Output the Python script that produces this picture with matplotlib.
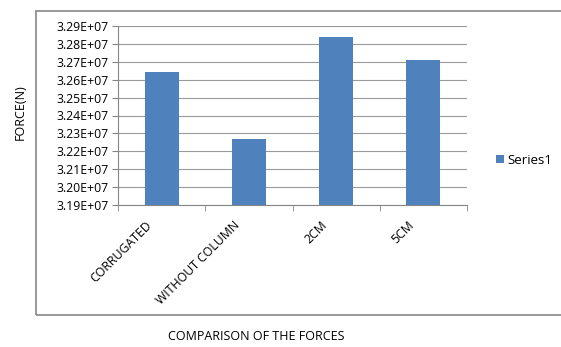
import numpy as np
import matplotlib.pyplot as plt
from matplotlib.patches import Rectangle
from matplotlib.transforms import ScaledTranslation

categories = ["CORRUGATED", "WITHOUT COLUMN", "2CM", "5CM"]
forces = [3.2641e7, 3.2267e7, 3.2837e7, 3.2708e7]
yticks = [3.19e7, 3.20e7, 3.21e7, 3.22e7, 3.23e7, 3.24e7, 3.25e7, 3.26e7, 3.27e7, 3.28e7, 3.29e7]

plt.rcParams['font.family'] = ['Open Sans', 'DejaVu Sans']

fig = plt.figure(figsize=(5.61, 3.47), dpi=100)
W, H = 561, 347
ax = fig.add_axes([118 / W, 1 - 205 / H, (467 - 118) / W, (205 - 26) / H])

x = np.arange(len(categories))
ax.bar(x, forces, width=0.39, color="#4F81BD", label="Series1", zorder=3)
ax.set_xlim(-0.5, len(categories) - 0.5)
ax.set_ylim(yticks[0], yticks[-1])
ax.set_yticks(yticks)
ax.set_yticklabels(["%.2fE+07" % (v / 1e7) for v in yticks], fontsize=8.8)
ax.set_xticks(x)
ax.set_xticklabels(categories, rotation=45, ha="right", rotation_mode="anchor", fontsize=8.8)
ax.tick_params(axis="x", length=0, pad=10)
# shift category labels a bit left like the original
shift = ScaledTranslation(-16 / 100, 0, fig.dpi_scale_trans)
for lab in ax.get_xticklabels():
    lab.set_transform(lab.get_transform() + shift)
ax.set_xticks(np.arange(len(categories) + 1) - 0.5, minor=True)
ax.tick_params(axis="x", which="minor", length=4, color="#868686")
ax.tick_params(axis="y", length=4, color="#868686", pad=3)
ax.grid(axis="y", color="#9a9a9a", linewidth=0.8, zorder=0)
for s in ["top", "right"]:
    ax.spines[s].set_visible(False)
for s in ["left", "bottom"]:
    ax.spines[s].set_color("#868686")

fig.text(20 / W, 1 - 112 / H, "FORCE(N)", rotation=90, ha="center", va="center", fontsize=9)
fig.text(256 / W, 1 - 337 / H, "COMPARISON OF THE FORCES", ha="center", va="center", fontsize=9)

ax.legend(loc="center left", bbox_to_anchor=(484 / W, 1 - 160 / H), bbox_transform=fig.transFigure,
          frameon=False, fontsize=9.5, handlelength=0.6, handleheight=0.6, handletextpad=0.3)

fig.patches.append(Rectangle((36 / W, 1 - 315 / H), 600 / W, (315 - 11) / H,
                             transform=fig.transFigure, fill=False, edgecolor="#868686", linewidth=1.2))

fig.savefig("out.png", dpi=100)
